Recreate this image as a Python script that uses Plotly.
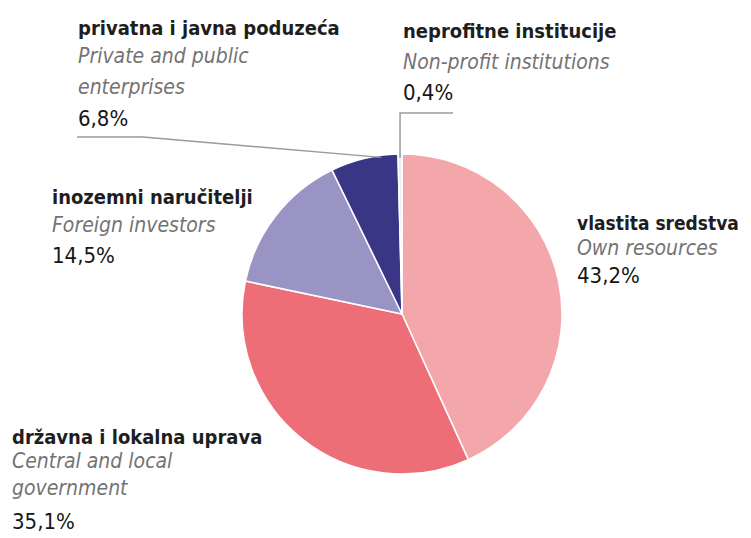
import math
import plotly.graph_objects as go

# ---- data ----
labels_hr = ["vlastita sredstva", "državna i lokalna uprava", "inozemni naručitelji",
             "privatna i javna poduzeća", "neprofitne institucije"]
labels_en = ["Own resources", "Central and local<br>government", "Foreign investors",
             "Private and public<br>enterprises", "Non-profit institutions"]
values = [43.2, 35.1, 14.5, 6.8, 0.4]
value_text = ["43,2%", "35,1%", "14,5%", "6,8%", "0,4%"]
colors = ["#F4A7AA", "#EE6E78", "#9A94C5", "#3A3686", "#ECECF2"]

W, H = 751, 538
OFF = 8  # page body margin
CX, CY, R = 402, 314, 160  # pie centre / radius in pixels

def px(x):
    return (x - OFF) / W

def py(y):
    return 1 - (y - OFF) / H

fig = go.Figure(go.Pie(
    labels=labels_hr, values=values, sort=False, direction="clockwise", rotation=0,
    marker=dict(colors=colors, line=dict(color="#FFFFFF", width=1.5)),
    textinfo="none", hoverinfo="label+percent", showlegend=False,
    domain=dict(x=[px(CX - R), px(CX + R)], y=[py(CY + R), py(CY - R)]),
))

FONT = "DejaVu Sans Condensed, Roboto, Arial, sans-serif"

# label layout: left x and centre y of each text line, in pixels
label_x = {0: 577, 1: 12, 2: 52, 3: 78, 4: 403}
label_y = {0: [223, 248, 275], 1: [437, 461, 488, 521], 2: [197, 225, 255],
           3: [28, 56, 87, 118], 4: [31, 62, 92]}
bold_size = {0: 19, 1: 20, 2: 20, 3: 20, 4: 20}

annotations = []
for i in range(len(values)):
    lines = [(f"<b>{labels_hr[i]}</b>", dict(size=bold_size[i], color="#1e1e1e"))]
    for part in labels_en[i].split("<br>"):
        lines.append((f"<i>{part}</i>", dict(size=21, color="#737373")))
    lines.append((value_text[i], dict(size=22, color="#161616")))
    for (txt, f), y in zip(lines, label_y[i]):
        annotations.append(dict(
            x=px(label_x[i] - 2), y=py(y), xref="paper", yref="paper",
            xanchor="left", yanchor="middle", align="left", showarrow=False,
            text=txt, font=dict(family=FONT, **f),
        ))

# leader lines: end at the slice edges computed from the data
cum = [sum(values[:k]) for k in range(len(values))]
total = sum(values)

def edge_point(frac, r=R):
    a = 2 * math.pi * frac
    return CX + r * math.sin(a), CY - r * math.cos(a)

ex, ey = edge_point((cum[3] + values[3] * 0.75) / total, R - 2)
line_col = "#9a9a9a"
shapes = [
    dict(type="path", xref="paper", yref="paper",
         path=f"M {px(77)},{py(137)} L {px(143)},{py(137)} L {px(ex)},{py(ey)}",
         line=dict(color=line_col, width=1.5)),
]
nx, ny = edge_point((cum[4] + values[4] / 2) / total, R - 4)
shapes.append(dict(type="path", xref="paper", yref="paper",
                   path=f"M {px(nx)},{py(ny)} L {px(nx)},{py(113)} L {px(453)},{py(113)}",
                   line=dict(color=line_col, width=1.5)))

fig.update_layout(
    width=W, height=H, margin=dict(l=0, r=0, t=0, b=0),
    paper_bgcolor="white", plot_bgcolor="white",
    annotations=annotations, shapes=shapes,
)
fig.write_html("out.html")
